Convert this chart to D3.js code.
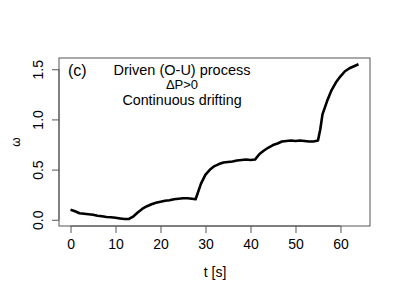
<!DOCTYPE html>
<html><head><meta charset="utf-8">
<script src="https://cdn.jsdelivr.net/npm/d3@7"></script>
<style>body{margin:0;background:#fff}svg{display:block}text{font-family:"Liberation Sans",Arial,sans-serif}</style>
</head><body><svg id="c" width="400" height="300"></svg>
<script>
const tVals = [0,1,2,3,4,5,6,7,8,9,10,11,12,13,14,15,16,17,18,19,20,21,22,23,24,25,26,27,27.8,29,30,31,32,33,34,35,36,37,38,39,40,41,42,43,44,45,46,47,48,49,50,51,52,53,54,55,55.5,56,57,58,59,60,61,62,63,64];
const omega = [0.10,0.085,0.065,0.06,0.055,0.05,0.04,0.035,0.028,0.025,0.02,0.013,0.007,0.008,0.035,0.075,0.11,0.135,0.155,0.17,0.18,0.19,0.195,0.205,0.21,0.215,0.215,0.21,0.205,0.36,0.45,0.50,0.535,0.555,0.57,0.575,0.58,0.59,0.595,0.60,0.595,0.60,0.655,0.69,0.72,0.745,0.76,0.78,0.785,0.79,0.785,0.79,0.785,0.78,0.78,0.79,0.9,1.05,1.18,1.29,1.37,1.43,1.48,1.51,1.53,1.55];
const xTicks = [0,10,20,30,40,50,60];
const yTicks = [0.0,0.5,1.0,1.5];
const yTickLabels = ["0.0","0.5","1.0","1.5"];

const svg = d3.select("#c");
const L=59,R=370,T=58,B=226;
const ext=(a,b)=>{const d=(b-a)*0.04;return [a-d,b+d];};
const x = d3.scaleLinear().domain(ext(d3.min(tVals),d3.max(tVals))).range([L,R]);
const y = d3.scaleLinear().domain(ext(0,d3.max(omega))).range([B,T]);

svg.append("rect").attr("x",L).attr("y",T).attr("width",R-L).attr("height",B-T)
  .attr("fill","none").attr("stroke","#555").attr("stroke-width",1);

const xa = svg.append("g").attr("transform",`translate(0,${B})`)
  .call(d3.axisBottom(x).tickValues(xTicks).tickSize(7).tickPadding(6).tickFormat(d3.format("d")));
const ya = svg.append("g").attr("transform",`translate(${L},0)`)
  .call(d3.axisLeft(y).tickValues(yTicks).tickSize(7).tickPadding(5).tickFormat((d,i)=>yTickLabels[i]));
[xa,ya].forEach(g=>{
  g.select(".domain").attr("stroke","#555");
  g.selectAll(".tick line").attr("stroke","#555");
  g.selectAll("text").attr("font-size",14).attr("fill","#000").attr("font-family","Liberation Sans, Arial, sans-serif");
});
xa.select(".domain").attr("d",`M${x(0)},0H${x(60)}`);
ya.select(".domain").attr("d",`M0,${y(0)}V${y(1.5)}`);
ya.selectAll(".tick text").attr("transform","rotate(-90)").attr("x",0).attr("y",-16)
  .attr("text-anchor","middle").attr("dy","0");

svg.append("path").datum(tVals.map((t,i)=>[t,omega[i]]))
  .attr("d",d3.line().x(d=>x(d[0])).y(d=>y(d[1])))
  .attr("fill","none").attr("stroke","#000").attr("stroke-width",2.6).attr("stroke-linejoin","round");

svg.append("text").attr("x",215).attr("y",277).attr("text-anchor","middle").attr("font-size",14).text("t [s]");
svg.append("text").attr("transform","translate(20,142) rotate(-90)").attr("text-anchor","middle").attr("font-size",12).text("ω");
svg.append("text").attr("x",68).attr("y",76).attr("font-size",16).text("(c)");
svg.append("text").attr("x",182).attr("y",75).attr("text-anchor","middle").attr("font-size",14.5).text("Driven (O-U) process");
svg.append("text").attr("x",182).attr("y",89).attr("text-anchor","middle").attr("font-size",13).text("ΔP>0");
svg.append("text").attr("x",182).attr("y",104.5).attr("text-anchor","middle").attr("font-size",14.3).text("Continuous drifting");
</script></body></html>
